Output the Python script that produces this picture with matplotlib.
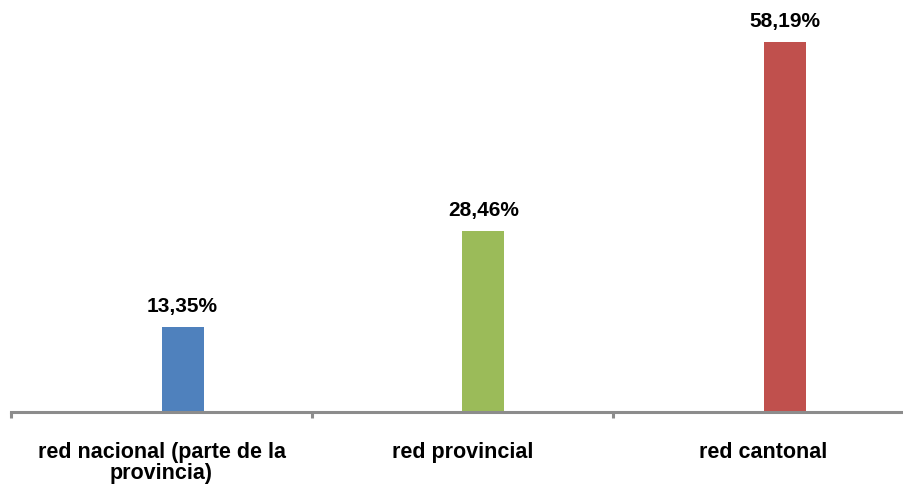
import matplotlib
matplotlib.use("Agg")
import matplotlib.pyplot as plt

categories = ["red nacional (parte de la\nprovincia)", "red provincial", "red cantonal"]
values = [13.35, 28.46, 58.19]
labels = ["13,35%", "28,46%", "58,19%"]
colors = ["#4F81BD", "#9BBB59", "#C0504D"]

plt.rcParams['font.family'] = ['Liberation Sans', 'DejaVu Sans']

W, H = 904, 486
fig = plt.figure(figsize=(W / 100, H / 100), dpi=100)
left_px, right_px = 11, 914
base_px = 412
ax = fig.add_axes([left_px / W, (H - base_px) / H, (right_px - left_px) / W, base_px / H])
ax.set_xlim(-0.5, 2.5)
ax.set_ylim(0, 64.8)

x = list(range(len(categories)))
offset = 21 / 301
width = 42 / 301
bars = ax.bar([i + offset for i in x], values, width=width, color=colors, zorder=2)
for b, lab in zip(bars, labels):
    ax.annotate(lab, (b.get_x() + b.get_width() / 2, b.get_height()),
                xytext=(0, 8), textcoords="offset points", ha="center", va="bottom",
                fontsize=15, fontweight="bold", color="black")

for s in ["top", "right", "left"]:
    ax.spines[s].set_visible(False)
ax.spines["bottom"].set_color("#8c8c8c")
ax.spines["bottom"].set_linewidth(2.2)
ax.set_yticks([])
ax.set_xticks([-0.5, 0.5, 1.5, 2.5])
ax.set_xticklabels([])
ax.tick_params(axis="x", direction="out", length=4, width=2.2, color="#8c8c8c")
for i, c in enumerate(categories):
    ax.text(i, -0.072, c, transform=ax.get_xaxis_transform(), ha="center", va="top",
            fontsize=15.5, fontweight="bold", linespacing=1.0)

fig.savefig("out.png", dpi=100)
